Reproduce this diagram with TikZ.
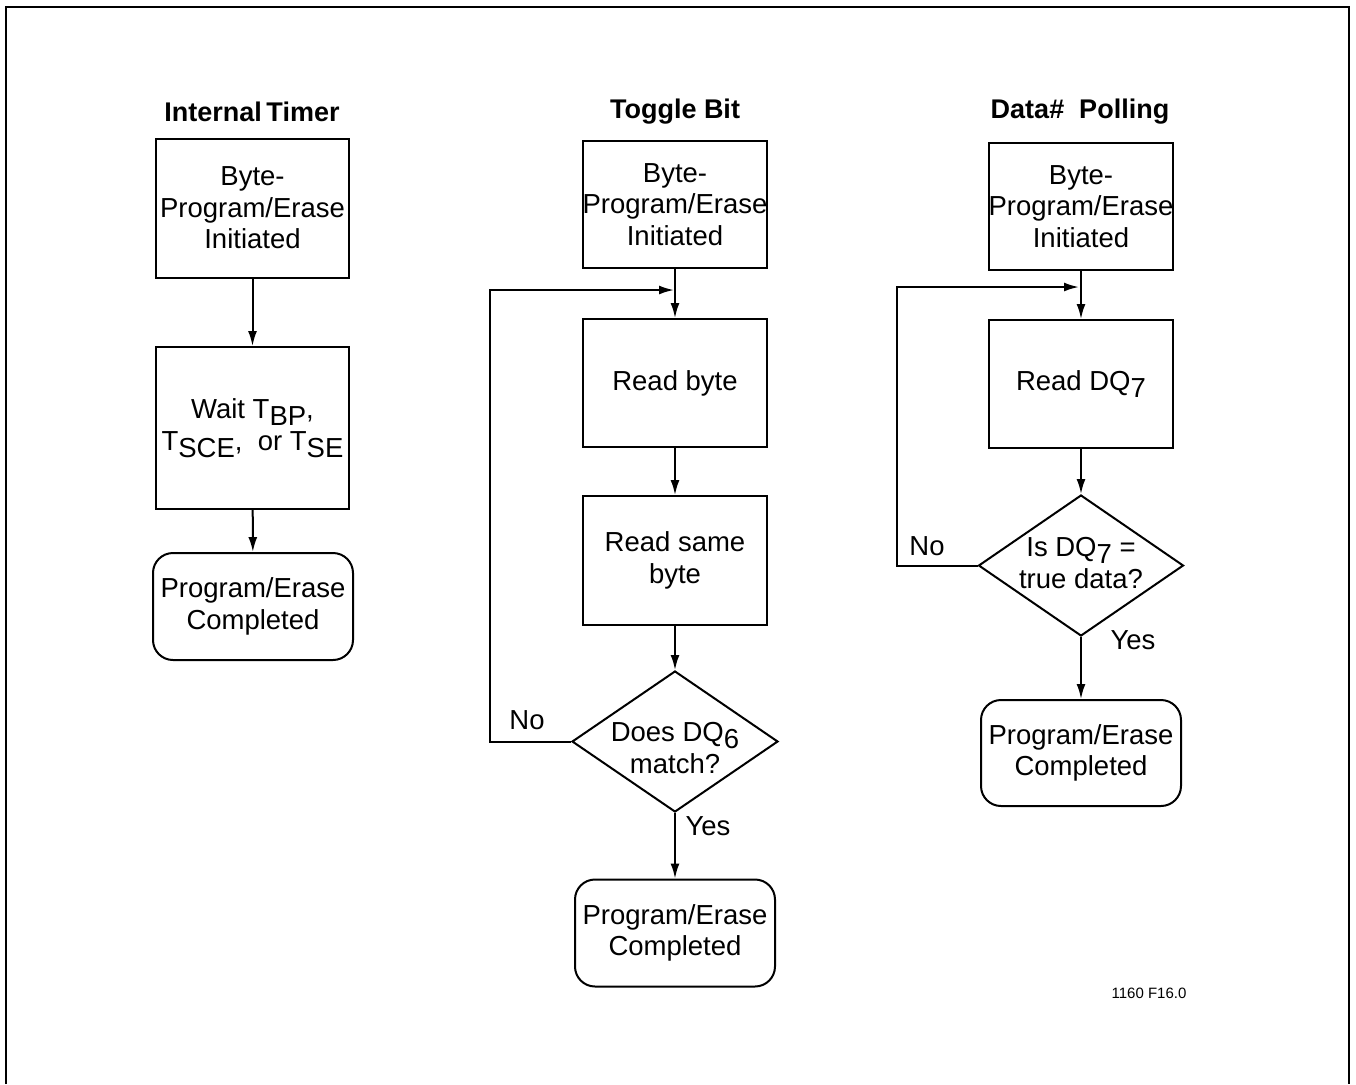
\documentclass[tikz,border=0pt]{standalone}
\usepackage{fontspec}
\setmainfont{Liberation Sans}
\usetikzlibrary{shapes.geometric,arrows.meta}
\newcommand{\lo}[1]{\raisebox{-0.25em}{#1}}
\newcommand{\dtext}[2]{\smash{\raisebox{#1}{\begin{tabular}{@{}c@{}}#2\end{tabular}}}}
\begin{document}
\begin{tikzpicture}[x=0.5pt,y=-0.5pt,
 every node/.style={font=\fontsize{13.75pt}{15.75pt}\selectfont, align=center, inner sep=0pt},
 box/.style={draw, line width=1pt, minimum width=92pt, minimum height=64pt},
 term/.style={draw, line width=1pt, rounded corners=10pt, minimum width=100pt, minimum height=53.5pt},
 dec/.style={draw, diamond, line width=1pt, minimum width=103pt, minimum height=70.5pt},
 ttl/.style={font=\fontsize{13.5pt}{15pt}\selectfont\bfseries},
 flow/.style={line width=1pt, -{Latex[length=7.5pt,width=4.5pt]}},
 frame/.style={line width=1.2pt}]
\useasboundingbox (0,0) rectangle (1356,1084);
\draw[frame] (6,1084) -- (6,7) -- (1349,7) -- (1349,1084);

% Internal Timer
\node[ttl] (itt) at (252,112) {Internal\,Timer};
\node[box, minimum width=96.5pt, minimum height=69.5pt] (it1) at (252.5,208) {Byte-\\Program/Erase\\Initiated};
\node[box, minimum width=96.5pt, minimum height=81pt] (it2) at (252.5,428) {Wait T\lo{BP},\\T\lo{SCE},\ \ or T\lo{SE}};
\node[term] (it3) at (253,606.5) {Program/Erase\\Completed};
\draw[flow] (it1) -- (it2);
\draw[flow] (it2) -- (it3);

% Toggle Bit
\node[ttl] (tbt) at (675,112) {Toggle Bit};
\node[box, minimum height=63.5pt] (tb1) at (675,204.5) {Byte-\\Program/Erase\\Initiated};
\node[box] (tb2) at (675,383) {Read byte};
\node[box, minimum height=64.5pt] (tb3) at (675,560.5) {Read same\\byte};
\node[dec] (tb4) at (675,741.5) {\dtext{-8.5pt}{Does DQ\lo{6}\\match?}};
\node[term] (tb5) at (675,933) {Program/Erase\\Completed};
\coordinate (tbj) at (674,290);
\draw[flow] (tb1) -- (tb2);
\draw[flow] (tb2) -- (tb3);
\draw[flow] (tb3) -- (tb4);
\draw[flow] (tb4) -- (tb5);
\draw[flow] (tb4.west) -- ++(-81,0) |- (tbj);
\node (tbno) at (527,720) {No};
\node (tbyes) at (708,826) {Yes};

% Data# Polling
\node[ttl] (dpt) at (1080,112) {Data\#\ \ Polling};
\node[box, minimum height=63.5pt] (dp1) at (1081,206.5) {Byte-\\Program/Erase\\Initiated};
\node[box] (dp2) at (1081,384) {Read DQ\lo{7}};
\node[dec, minimum width=102.5pt] (dp3) at (1081,565.5) {\dtext{-4pt}{Is DQ\lo{7} =\\true data?}};
\node[term, minimum height=53pt] (dp4) at (1081,753) {Program/Erase\\Completed};
\coordinate (dpj) at (1079,287);
\draw[flow] (dp1) -- (dp2);
\draw[flow] (dp2) -- (dp3);
\draw[flow] (dp3) -- (dp4);
\draw[flow] (dp3.west) -- ++(-81,0) |- (dpj);
\node (dpno) at (927,546) {No};
\node (dpyes) at (1133,640) {Yes};

\node[font=\fontsize{7.5pt}{9pt}\selectfont] (fig) at (1149,993) {1160 F16.0};
\end{tikzpicture}
\end{document}
